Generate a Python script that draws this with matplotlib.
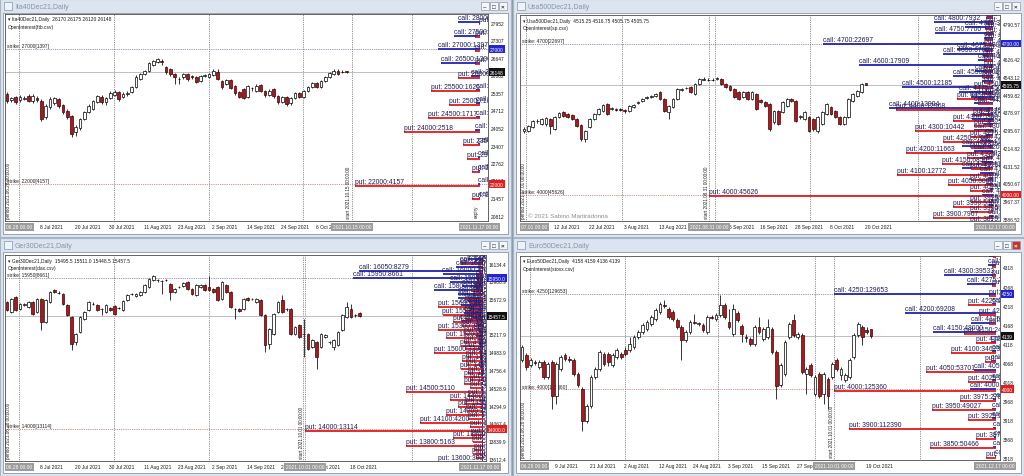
import numpy as np
import matplotlib.pyplot as plt
from matplotlib.patches import Rectangle
from matplotlib.transforms import blended_transform_factory, offset_copy

plt.rcParams['font.family'] = ['Liberation Sans', 'DejaVu Sans']

# ---------------- Ita40Dec21 (FTSE MIB) ----------------
ita_open = [25336, 25114, 25225, 25114, 25151, 25262, 25077, 25188, 25077, 24485,
            24855, 25003, 25151, 24929, 24707, 24522, 23930, 24078, 24411, 24670,
            24781, 25040, 25225, 25040, 25188, 25299, 25410, 25225, 25336, 25410,
            25595, 25891, 26076, 26187, 26409, 26520, 26557, 26335, 26261, 26076,
            25890, 25965, 26076, 26002, 25965, 25817, 26002, 25965, 26039, 26150,
            25817, 25706, 25854, 25632, 25410, 25521, 25225, 25558, 25447, 25669,
            25447, 25299, 25521, 25262, 25040, 25225, 25003, 25188, 25373, 25225,
            25447, 25595, 25743, 25595, 25817, 25965, 26076, 26187, 26150, 26170]
ita_high = [25410, 25225, 25262, 25299, 25262, 25336, 25336, 25262, 25151, 24966,
            25225, 25225, 25188, 24966, 24781, 24559, 24189, 24448, 24707, 24966,
            25114, 25299, 25299, 25225, 25447, 25484, 25447, 25410, 25447, 25632,
            26039, 26113, 26224, 26520, 26594, 26668, 26631, 26372, 26298, 26113,
            25965, 26113, 26113, 26039, 26002, 26039, 26076, 26113, 26261, 26261,
            25854, 25891, 25891, 25669, 25447, 25558, 25669, 25595, 25706, 25706,
            25484, 25521, 25558, 25299, 25262, 25262, 25225, 25410, 25410, 25484,
            25632, 25780, 25780, 25854, 26002, 26150, 26261, 26261, 26224, 26175]
ita_low = [25003, 25040, 24966, 25040, 25114, 25040, 25003, 25040, 24337, 24411,
           24781, 24929, 24818, 24596, 24411, 23745, 23782, 24004, 24374, 24633,
           24744, 25003, 24966, 24929, 25151, 25262, 25077, 25188, 25262, 25373,
           25558, 25854, 26039, 26150, 26372, 26483, 26409, 26076, 26002, 25706,
           25706, 25891, 25817, 25891, 25743, 25780, 25965, 25928, 26002, 25854,
           25521, 25669, 25521, 25299, 25188, 25151, 25188, 25447, 25410, 25410,
           25225, 25262, 25188, 24966, 25003, 24892, 24929, 25151, 25188, 25188,
           25410, 25558, 25558, 25558, 25780, 25928, 26039, 26039, 26113, 26120]
ita_close = [25077, 25188, 25040, 25225, 25188, 25077, 25262, 25114, 24411, 24892,
             25151, 25188, 24892, 24670, 24485, 23856, 24115, 24411, 24670, 24892,
             25077, 25262, 25040, 25188, 25373, 25410, 25151, 25336, 25373, 25595,
             25965, 26076, 26187, 26483, 26557, 26631, 26520, 26150, 26076, 25965,
             25900, 26076, 25891, 25965, 25780, 26002, 26039, 26076, 26187, 25891,
             25595, 25854, 25558, 25373, 25225, 25188, 25632, 25570, 25632, 25447,
             25299, 25447, 25262, 25040, 25225, 24966, 25188, 25373, 25225, 25447,
             25595, 25743, 25595, 25817, 25965, 26113, 26187, 26076, 26160, 26148]
ita_dates = ['8 Jul 2021', '20 Jul 2021', '30 Jul 2021', '11 Aug 2021', '23 Aug 2021',
             '2 Sep 2021', '14 Sep 2021', '24 Sep 2021', '6 Oct 2021']
ita_date_pos = [8, 16, 24, 32, 40, 48, 56, 64, 72]
ita_ticks = [27952, 27307, 26647, 26002, 25357, 24712, 24052, 23407, 22762, 22117, 21457, 20812]
ita_strikes = [21500, 22000, 22500, 23000, 23500, 24000, 24500, 25000, 25500, 26000, 26500, 27000, 27500, 28000]
ita_calls = [30, 70, 60, 80, 60, 160, 150, 120, 150, 300, 1300, 1397, 870, 740]
ita_puts = [270, 4157, 270, 430, 570, 2518, 1717, 1030, 1626, 730, 170, 170, 170, 50]

# ---------------- Usa500Dec21 (S&P 500) ----------------
spx_open = [4294, 4294, 4313, 4341, 4327, 4327, 4350, 4304, 4359, 4383,
            4373, 4369, 4350, 4322, 4257, 4313, 4350, 4373, 4387, 4420,
            4396, 4396, 4396, 4392, 4387, 4406, 4424, 4434, 4448, 4452,
            4457, 4475, 4443, 4383, 4406, 4443, 4485, 4494, 4498, 4466,
            4512, 4536, 4531, 4531, 4536, 4536, 4512, 4503, 4489, 4475,
            4452, 4475, 4443, 4466, 4438, 4429, 4420, 4336, 4387, 4383,
            4410, 4443, 4434, 4359, 4350, 4359, 4350, 4294, 4327, 4373,
            4406, 4387, 4359, 4327, 4359, 4434, 4457, 4475, 4515.25]
spx_high = [4313, 4322, 4345, 4350, 4355, 4360, 4354, 4362, 4382, 4387,
            4378, 4373, 4355, 4327, 4300, 4355, 4378, 4401, 4420, 4424,
            4406, 4401, 4401, 4396, 4415, 4420, 4434, 4448, 4457, 4462,
            4471, 4480, 4448, 4415, 4448, 4494, 4494, 4498, 4503, 4517,
            4540, 4545, 4540, 4538, 4546, 4540, 4517, 4508, 4494, 4480,
            4480, 4480, 4480, 4471, 4443, 4434, 4424, 4392, 4392, 4434,
            4448, 4448, 4438, 4369, 4387, 4364, 4355, 4364, 4387, 4424,
            4410, 4392, 4364, 4364, 4448, 4471, 4485, 4517, 4516.75]
spx_low = [4285, 4290, 4308, 4332, 4322, 4318, 4281, 4300, 4355, 4360,
           4355, 4345, 4313, 4248, 4243, 4308, 4345, 4369, 4383, 4369,
           4392, 4387, 4387, 4378, 4383, 4401, 4420, 4429, 4443, 4448,
           4452, 4438, 4383, 4350, 4401, 4438, 4480, 4489, 4471, 4462,
           4508, 4531, 4526, 4526, 4531, 4508, 4494, 4480, 4448, 4438,
           4448, 4438, 4438, 4392, 4424, 4406, 4294, 4327, 4322, 4378,
           4406, 4429, 4336, 4350, 4345, 4288, 4294, 4286, 4322, 4369,
           4369, 4355, 4322, 4322, 4355, 4429, 4452, 4471, 4505.75]
spx_close = [4304, 4318, 4341, 4339, 4350, 4355, 4318, 4359, 4378, 4364,
             4359, 4350, 4318, 4257, 4294, 4350, 4373, 4396, 4415, 4373,
             4401, 4392, 4394, 4387, 4410, 4415, 4429, 4443, 4452, 4457,
             4466, 4443, 4387, 4410, 4443, 4489, 4489, 4492, 4475, 4512,
             4536, 4533, 4532, 4533, 4540, 4512, 4498, 4485, 4452, 4443,
             4475, 4443, 4475, 4396, 4429, 4410, 4304, 4387, 4327, 4429,
             4443, 4434, 4341, 4364, 4383, 4294, 4304, 4359, 4383, 4420,
             4373, 4359, 4327, 4359, 4443, 4466, 4480, 4512, 4505.75]
spx_dates = ['12 Jul 2021', '22 Jul 2021', '3 Aug 2021', '13 Aug 2021', '25 Aug 2021',
             '6 Sep 2021', '16 Sep 2021', '28 Sep 2021', '8 Oct 2021', '20 Oct 2021']
spx_date_pos = [7, 15, 23, 31, 39, 47, 54, 62, 70, 78]
spx_ticks = [4790.57, 4708.37, 4626.42, 4543.12, 4459.82, 4378.97, 4295.67, 4214.82,
             4131.52, 4050.67, 3967.37, 3886.52]
spx_strikes = [3875, 3900, 3925, 3950, 3975, 4000, 4025, 4050, 4075, 4100,
               4125, 4150, 4175, 4200, 4225, 4250, 4275, 4300, 4325, 4350,
               4375, 4400, 4425, 4450, 4475, 4500, 4525, 4550, 4575, 4600,
               4625, 4650, 4675, 4700, 4725, 4750, 4775, 4800, 4825]
spx_calls = [300, 600, 300, 500, 300, 1500, 400, 900, 500, 1800,
             4100, 1500, 800, 2500, 4100, 1800, 900, 2600, 1200, 2800,
             1800, 13904, 2500, 3000, 4500, 12185, 1500, 5300, 2400, 17909,
             2000, 6700, 4800, 22697, 1200, 7700, 3700, 7932, 800]
spx_puts = [3000, 7967, 3000, 5300, 3000, 45626, 3070, 6000, 3000, 12772,
            3000, 6850, 3500, 11663, 3000, 6700, 3000, 10442, 2500, 5300,
            2700, 12968, 2000, 4800, 1500, 2500, 1200, 1500, 1300, 1200,
            1200, 1300, 1100, 1200, 1100, 1000, 1100, 1000, 900]

# ---------------- Ger30Dec21 (DAX) ----------------
dax_open = [15643, 15514, 15708, 15553, 15604, 15579, 15643, 15514, 15682, 15385,
            15643, 15798, 15760, 15747, 15604, 15449, 15126, 15255, 15423, 15540,
            15617, 15604, 15553, 15514, 15566, 15592, 15566, 15540, 15669, 15747,
            15721, 15734, 15773, 15837, 15928, 15928, 15915, 15928, 15876, 15773,
            15837, 15850, 15902, 15811, 15734, 15837, 15863, 15837, 15811, 15837,
            15682, 15863, 15773, 15553, 15553, 15553, 15695, 15682, 15643, 15669,
            15475, 15100, 15229, 15514, 15669, 15553, 15553, 15229, 15346, 15229,
            15229, 15061, 15126, 15061, 15191, 15126, 15061, 15087, 15281, 15449,
            15553, 15475, 15495.5]
dax_high = [15656, 15695, 15720, 15630, 15630, 15656, 15656, 15695, 15695, 15682,
            15785, 15811, 15785, 15760, 15617, 15462, 15242, 15462, 15527, 15656,
            15643, 15617, 15566, 15617, 15579, 15604, 15579, 15669, 15747, 15760,
            15760, 15785, 15876, 15954, 15992, 15941, 15928, 15941, 15889, 15824,
            15850, 15902, 15915, 15824, 15876, 15876, 15876, 15979, 15824, 15850,
            15915, 15876, 15785, 15566, 15566, 15695, 15708, 15695, 15695, 15682,
            15488, 15307, 15500, 15656, 15734, 15566, 15566, 15333, 15359, 15423,
            15242, 15165, 15139, 15242, 15229, 15139, 15165, 15268, 15488, 15643,
            15617, 15488, 15511.0]
dax_low = [15527, 15500, 15527, 15540, 15592, 15566, 15475, 15500, 15281, 15372,
           15630, 15760, 15747, 15604, 15462, 15023, 15087, 15242, 15410, 15527,
           15604, 15527, 15475, 15500, 15527, 15475, 15553, 15527, 15656, 15734,
           15708, 15721, 15760, 15824, 15915, 15902, 15747, 15915, 15669, 15760,
           15824, 15837, 15798, 15734, 15721, 15824, 15785, 15785, 15760, 15656,
           15669, 15760, 15566, 15423, 15514, 15540, 15656, 15669, 15630, 15462,
           14997, 15035, 15216, 15500, 15500, 15527, 15216, 15216, 15178, 14932,
           15023, 15048, 14777, 15048, 15178, 15100, 15023, 15074, 15268, 15436,
           15436, 15449, 15448.5]
dax_close = [15540, 15682, 15540, 15617, 15617, 15643, 15488, 15682, 15385, 15669,
             15773, 15773, 15765, 15617, 15475, 15100, 15229, 15449, 15514, 15643,
             15622, 15540, 15548, 15604, 15540, 15488, 15571, 15656, 15734, 15752,
             15747, 15773, 15863, 15941, 15979, 15923, 15910, 15933, 15773, 15811,
             15832, 15889, 15811, 15747, 15863, 15863, 15798, 15798, 15773, 15669,
             15902, 15773, 15579, 15558, 15527, 15682, 15669, 15677, 15682, 15475,
             15087, 15294, 15488, 15643, 15514, 15548, 15229, 15320, 15191, 15224,
             15035, 15152, 14932, 15229, 15216, 15121, 15152, 15255, 15475, 15579,
             15449, 15470, 15457.5]
dax_dates = ['8 Jul 2021', '20 Jul 2021', '30 Jul 2021', '11 Aug 2021', '23 Aug 2021',
             '2 Sep 2021', '14 Sep 2021', '24 Sep 2021', '6 Oct 2021', '18 Oct 2021']
dax_date_pos = [8, 16, 24, 32, 40, 48, 56, 64, 72, 80]
dax_ticks = [16134.4, 15906.9, 15672.9, 15445.4, 15217.9, 14983.9, 14756.4, 14528.9,
             14294.9, 14067.4, 13839.9, 13612.4]
dax_strikes = list(range(13600, 16201, 50))
dax_calls = [50, 40, 60, 40, 80, 50, 60, 50, 100, 60, 80, 60, 90, 70, 80, 70, 100, 80,
             150, 90, 120, 100, 150, 120, 200, 150, 200, 180, 300, 200, 250, 220, 500, 300,
             600, 400, 1500, 800, 1300, 900, 1500, 1000, 1700, 1700, 3300, 1400, 2200, 8661,
             2700, 8279, 1800, 1500, 1000]
dax_puts = [3000, 500, 700, 600, 5163, 700, 2000, 800, 13114, 900, 4200, 1000, 2500, 1100,
            1700, 1200, 2200, 1000, 5110, 900, 1300, 900, 1300, 1000, 1500, 1100, 1400, 1100,
            3300, 1200, 1500, 1300, 2500, 1300, 3000, 1400, 2000, 1200, 2700, 1200, 3000, 900,
            1200, 600, 800, 500, 600, 400, 500, 300, 300, 1500, 200]

# ---------------- Euro50Dec21 (Euro Stoxx 50) ----------------
sx5_open = [4077, 4090, 4064, 4072, 4059, 4072, 4033, 4072, 3983, 4054,
            4090, 4080, 4077, 4040, 4001, 3917, 3957, 4033, 4054, 4093,
            4093, 4064, 4085, 4093, 4103, 4103, 4111, 4137, 4150, 4158,
            4171, 4184, 4203, 4221, 4211, 4203, 4182, 4163, 4129, 4150,
            4177, 4171, 4169, 4150, 4190, 4184, 4195, 4221, 4177, 4145,
            4200, 4166, 4137, 4132, 4119, 4163, 4132, 4137, 4158, 4098,
            4012, 4040, 4137, 4182, 4137, 4143, 4040, 4064, 3988, 4040,
            3988, 4027, 4033, 4077, 4038, 4025, 4033, 4085, 4143, 4163,
            4156, 4158]
sx5_high = [4117, 4095, 4082, 4077, 4077, 4077, 4072, 4077, 4072, 4090,
            4095, 4087, 4082, 4045, 4006, 3962, 4038, 4059, 4103, 4098,
            4098, 4095, 4108, 4098, 4111, 4137, 4142, 4155, 4174, 4182,
            4195, 4213, 4229, 4234, 4216, 4208, 4187, 4169, 4155, 4182,
            4198, 4177, 4174, 4195, 4195, 4200, 4247, 4226, 4211, 4224,
            4205, 4171, 4145, 4137, 4169, 4190, 4163, 4184, 4163, 4103,
            4069, 4129, 4177, 4198, 4150, 4148, 4059, 4069, 4038, 4045,
            4045, 4033, 4072, 4082, 4059, 4043, 4082, 4148, 4177, 4169,
            4163, 4159]
sx5_low = [4072, 4051, 4059, 4064, 4054, 4027, 4027, 3949, 3962, 4048,
           4075, 4072, 4035, 4006, 3891, 3912, 3951, 4027, 4048, 4061,
           4061, 4059, 4080, 4080, 4088, 4098, 4106, 4132, 4145, 4153,
           4166, 4179, 4198, 4214, 4184, 4179, 4158, 4077, 4124, 4145,
           4171, 4166, 4150, 4145, 4184, 4179, 4190, 4184, 4158, 4140,
           4177, 4124, 4124, 4114, 4114, 4145, 4127, 4132, 4093, 3975,
           4006, 4035, 4132, 4137, 4132, 4040, 3988, 4033, 3983, 3978,
           3962, 3949, 4027, 4048, 4025, 4019, 4027, 4080, 4137, 4116,
           4145, 4136]
sx5_close = [4111, 4059, 4077, 4070, 4072, 4033, 4067, 3983, 4067, 4085,
             4080, 4078, 4040, 4012, 3917, 3957, 4033, 4054, 4098, 4067,
             4072, 4090, 4103, 4085, 4093, 4119, 4137, 4150, 4169, 4177,
             4190, 4208, 4224, 4219, 4190, 4184, 4163, 4129, 4150, 4177,
             4175, 4173, 4156, 4190, 4188, 4195, 4221, 4190, 4163, 4211,
             4182, 4145, 4135, 4119, 4163, 4150, 4158, 4163, 4098, 4009,
             4064, 4124, 4171, 4143, 4145, 4046, 4054, 4038, 4033, 3983,
             4040, 3983, 4067, 4054, 4054, 4038, 4077, 4143, 4171, 4137,
             4150, 4139]
sx5_dates = ['9 Jul 2021', '21 Jul 2021', '2 Aug 2021', '12 Aug 2021', '24 Aug 2021',
             '3 Sep 2021', '15 Sep 2021', '27 Sep 2021', '7 Oct 2021', '19 Oct 2021']
sx5_date_pos = [8, 16, 24, 32, 40, 48, 56, 64, 72, 80]
sx5_ticks = [4318, 4268, 4218, 4168, 4118, 4068, 4018, 3968, 3918, 3868, 3818]
sx5_strikes = list(range(3825, 4351, 25))
sx5_calls = [1000, 2500, 1500, 2500, 3000, 3000, 2000, 20000, 3000, 17000, 4000,
             3000, 4000, 48000, 19000, 69208, 3000, 129653, 22000, 39533, 6000, 5000]
sx5_puts = [8000, 50466, 15500, 112390, 21500, 49027, 27840, 125360, 21000, 53701, 8500,
            34623, 15500, 24200, 5000, 13000, 21500, 5000, 3000, 3000, 3000, 2000]

# ---------------- layout ----------------
W, H = 1024, 477
fig = plt.figure(figsize=(W / 100, H / 100), dpi=100)
fig.patch.set_facecolor('#c9d4e1')

CALL_C = '#2323b0'
PUT_C = '#e3191b'
LBL_C = '#1d1d5a'
SMALL = 3.5   # chart scale / header text size
OI_FS = 4.9   # open interest labels


def frect(x, y, w, h, z=-10, **kw):
    fig.add_artist(Rectangle((x / W, 1 - (y + h) / H), w / W, h / H,
                             transform=fig.transFigure, zorder=z, **kw))


def ftext(x, y, s, **kw):
    fig.text(x / W, 1 - y / H, s, **kw)


def window(x, y, title, active=False):
    frect(x, y, 511, 238, facecolor='#dce5ef', edgecolor='#a7b4c4', linewidth=0.8)
    frect(x + 3, y + 14, 505, 221, facecolor='white', edgecolor='#8a97a8', linewidth=0.6)
    frect(x + 4, y + 3, 8, 8, facecolor='#eef3f9', edgecolor='#7f95b3', linewidth=0.5)
    ftext(x + 15, y + 7.5, title, fontsize=5.0, color='#8793a6', va='center')
    bx = x + 481
    for k, sym in enumerate(['\u2013', '\u25a1', '\u00d7']):
        fc = '#c8342c' if (active and k == 2) else '#f4f7fb'
        frect(bx + 9 * k, y + 3, 8, 8, facecolor=fc, edgecolor='#8e9cae', linewidth=0.5)
        ftext(bx + 9 * k + 4, y + 7.3, sym, fontsize=4.5, ha='center', va='center',
              color='white' if (active and k == 2) else '#303848', fontweight='bold')


def draw_panel(ax_px, px0, step, ylim, o, h, l, c, header, csv, ticks, fmt,
               dates, date_pos, strikes, calls, puts, oi_scale, gap,
               start_pos, start_lbl, expiry_pos, expiry_lbl, first_lbl, grid_pos,
               left_lbl, show_expiry=False):
    L, T, R, B = ax_px
    ax = fig.add_axes([L / W, 1 - B / H, (R - L) / W, (B - T) / H])
    ax.set_facecolor('white')
    ax.set_xlim((L - px0) / step, (R - px0) / step)
    ax.set_ylim(*ylim)
    ax.set_xticks([])
    ax.set_yticks([])
    for sp in ax.spines.values():
        sp.set_color('#4a4a4a')
        sp.set_linewidth(0.6)
    ppp = (ylim[1] - ylim[0]) / (B - T)
    xa = blended_transform_factory(ax.transData, ax.transAxes)
    ya = blended_transform_factory(ax.transAxes, ax.transData)

    # vertical grid
    for g in grid_pos:
        ax.axvline(g, color='#303030', lw=0.5, ls=(0, (1, 1.6)), zorder=1)
    ax.axvline(start_pos, color='#303030', lw=0.5, ls=(0, (1, 1.6)), zorder=1)

    # max-open-interest strikes
    ci = int(np.argmax(calls))
    pi = int(np.argmax(puts))
    ax.axhline(strikes[ci], color='#565680', lw=0.55, ls=(0, (1, 1.4)), zorder=1)
    ax.axhline(strikes[pi], color='#c04848', lw=0.55, ls=(0, (1, 1.4)), zorder=1)
    for s, v in ((strikes[ci], calls[ci]), (strikes[pi], puts[pi])):
        ax.text(0, s, f'strike: {s}[{v}]', fontsize=SMALL, color='#222222', va='bottom',
                transform=offset_copy(ya, fig=fig, x=2, y=0.8, units='dots'))

    # current price line
    ax.axhline(c[-1], color='#b4b4b4', lw=0.6, zorder=1)

    # candles
    x = np.arange(len(o))
    o, h, l, c = (np.asarray(a, dtype=float) for a in (o, h, l, c))
    ax.vlines(x, l, h, color='black', lw=0.55, zorder=3)
    up = c >= o
    ax.bar(x[up], (c - o)[up], bottom=o[up], width=0.64, color='white',
           edgecolor='black', linewidth=0.5, zorder=4)
    ax.bar(x[~up], (o - c)[~up], bottom=c[~up], width=0.64, color='#b0161c',
           edgecolor='#3a0505', linewidth=0.5, zorder=4)

    # header texts
    ax.text(0, 1, '\u25be ' + header, fontsize=SMALL, color='#1a1a1a', va='center',
            transform=offset_copy(ax.transAxes, fig=fig, x=3, y=-5, units='dots'))
    ax.text(0, 1, f'OpenInterest({csv})', fontsize=SMALL, color='#1a1a1a', va='center',
            transform=offset_copy(ax.transAxes, fig=fig, x=3, y=-12.5, units='dots'))

    # open interest bars
    ax_w = R - L
    ax2 = ax.twiny()
    ax2.set_xlim((ax_w - gap) / oi_scale, -gap / oi_scale)
    ax2.set_axis_off()
    start_px = (start_pos - (L - px0) / step) * step
    vmax = (ax_w - gap - start_px) / oi_scale
    st = np.asarray(strikes, dtype=float)
    vc = np.minimum(np.asarray(calls, dtype=float), vmax)
    vp = np.minimum(np.asarray(puts, dtype=float), vmax)
    ax2.hlines(st, 0, vc, color=CALL_C, lw=1.3, zorder=2)
    ax2.hlines(st - 1.6 * ppp, 0, vp, color=PUT_C, lw=1.3, zorder=2)
    tr = offset_copy(ax2.transData, fig=fig, x=0, y=1.0, units='dots')
    for s, v, w in zip(strikes, calls, vc):
        ax2.text(w, s, f'call: {s}:{v}', fontsize=OI_FS, color=LBL_C, va='bottom',
                 ha='left', transform=tr, clip_on=True, zorder=5)
    for s, v, w in zip(strikes, puts, vp):
        ax2.text(w, s - 1.6 * ppp, f'put: {s}:{v}', fontsize=OI_FS, color=LBL_C,
                 va='bottom', ha='left', transform=tr, clip_on=True, zorder=5)

    # right price scale
    rt = offset_copy(ya, fig=fig, x=3, y=0, units='dots')
    for t in ticks:
        ax.text(1, t, fmt.format(t), fontsize=SMALL, color='#1a1a1a', va='center',
                ha='left', transform=rt, clip_on=False)
    bt = offset_copy(ya, fig=fig, x=2, y=0, units='dots')
    for val, col in ((strikes[ci], '#2424d0'), (strikes[pi], '#e02020'), (c[-1], '#111111')):
        ax.text(1, val, fmt.format(val), fontsize=SMALL, color='white', va='center',
                ha='left', transform=bt, clip_on=False, zorder=6,
                bbox=dict(boxstyle='square,pad=0.3', fc=col, ec='none'))

    # time scale
    dt = offset_copy(xa, fig=fig, x=-1, y=-6, units='dots')
    for d, p in zip(dates, date_pos):
        ax.text(p, 0, d, fontsize=SMALL, color='#1a1a1a', va='center', ha='left',
                transform=dt, clip_on=False)
    bx = dict(boxstyle='square,pad=0.3', fc='#9c9c9c', ec='none')
    ct = offset_copy(xa, fig=fig, x=0, y=-6, units='dots')
    ax.text(start_pos, 0, start_lbl + ' 00:00', fontsize=SMALL, color='white', va='center',
            ha='center', transform=ct, clip_on=False, bbox=bx, zorder=6)
    ax.text(expiry_pos, 0, expiry_lbl + ' 00:00', fontsize=SMALL, color='white', va='center',
            ha='center', transform=ct, clip_on=False, bbox=bx, zorder=6)
    ax.text(0, 0, first_lbl, fontsize=SMALL, color='white', va='center', ha='left',
            transform=offset_copy(ax.transAxes, fig=fig, x=1, y=-6, units='dots'),
            clip_on=False, bbox=bx, zorder=6)

    # rotated markers
    ax.text(start_pos, 0, f'start {start_lbl} 00:00:00', fontsize=3.3, color='#222222',
            rotation=90, ha='right', va='bottom',
            transform=offset_copy(xa, fig=fig, x=-0.5, y=3, units='dots'))
    ax.text(0, 0, left_lbl, fontsize=3.3, color='#222222', rotation=90, ha='left',
            va='bottom', transform=offset_copy(ax.transAxes, fig=fig, x=1, y=3, units='dots'))
    if show_expiry:
        ax.text(expiry_pos, 0, 'expiry', fontsize=3.3, color='#222222', rotation=90,
                ha='right', va='bottom', transform=offset_copy(xa, fig=fig, x=-0.5, y=4, units='dots'))
    return ax


# window chrome
frect(511, 0, 2, 477, facecolor='#8e99a8')
frect(0, 238, 1024, 1, facecolor='#8e99a8')
window(0, 0, 'Ita40Dec21,Daily')
window(513, 0, 'Usa500Dec21,Daily')
window(0, 239, 'Ger30Dec21,Daily')
window(513, 239, 'Euro50Dec21,Daily', active=True)

draw_panel((5, 15, 488, 222), 7, 4.3, (20637, 28296),
           ita_open, ita_high, ita_low, ita_close,
           'Ita40Dec21,Daily  26170 26175 26120 26148', 'ftb.csv', ita_ticks, '{:.0f}',
           ita_dates, ita_date_pos, ita_strikes, ita_calls, ita_puts, 0.030, 8,
           80.2, '2021.10.15', 109.8, '2021.11.17', '06.28 00:00', [2.8, 24.9, 47, 68.8, 94.2],
           'period 2021.06.28 00:00:00', show_expiry=True)

ax_tr = draw_panel((520, 16, 1000, 222), 524, 4.385, (3877.3, 4832.3),
                   spx_open, spx_high, spx_low, spx_close,
                   'Usa500Dec21,Daily  4515.25 4516.75 4505.75 4505.75', 'sp.csv', spx_ticks, '{:.2f}',
                   spx_dates, spx_date_pos, spx_strikes, spx_calls, spx_puts, 0.0075, 7,
                   42.2, '2021.08.31', 107.4, '2021.12.17', '07.01 00:00', [0.5, 22.3, 43.6, 65.2, 89.9],
                   'period 2021.07.01 00:00:00')
ax_tr.text(0, 0, '\u00a9 2021 Sabino Martiradonna', fontsize=4.5, color='#8c8c8c', va='bottom',
           transform=offset_copy(ax_tr.transAxes, fig=fig, x=8, y=3, units='dots'))

draw_panel((5, 256, 486, 462), 7, 4.3, (13587, 16251),
           dax_open, dax_high, dax_low, dax_close,
           'Ger30Dec21,Daily  15495.5 15511.0 15448.5 15457.5', 'dax.csv', dax_ticks, '{:.1f}',
           dax_dates, dax_date_pos, dax_strikes, dax_calls, dax_puts, 0.015, 3,
           69.3, '2021.10.01', 110, '2021.11.17', '06.28 00:00', [2.8, 24.9, 47, 68.8, 94.2],
           'period 2021.06.28 00:00:00')

draw_panel((520, 257, 1000, 461), 522, 4.31, (3815.3, 4349.4),
           sx5_open, sx5_high, sx5_low, sx5_close,
           'Euro50Dec21,Daily  4158 4159 4136 4139', 'stoxx.csv', sx5_ticks, '{:.0f}',
           sx5_dates, sx5_date_pos, sx5_strikes, sx5_calls, sx5_puts, 0.00131, 4,
           72.4, '2021.10.01', 109.7, '2021.12.17', '06.28 00:00', [1.9, 24, 45.5, 68, 92.3],
           'period 2021.06.28 00:00:00')

fig.savefig('out.png', dpi=100, facecolor=fig.get_facecolor())
